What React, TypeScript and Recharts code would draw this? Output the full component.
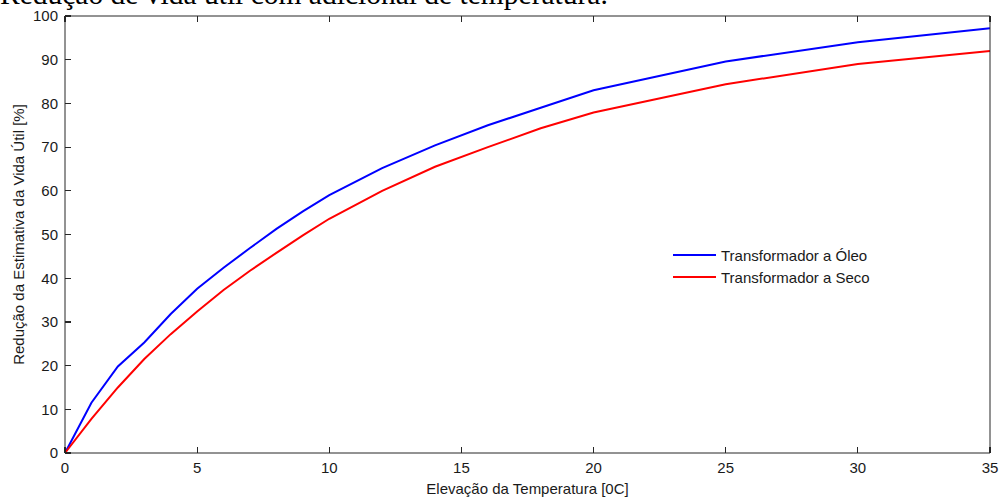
import React from 'react';
import { LineChart, Line, XAxis, YAxis } from 'recharts';

// Elevação da temperatura [0C]
const temps = [0, 1, 2, 3, 4, 5, 6, 7, 8, 9, 10, 12, 14, 16, 18, 20, 25, 30, 35];
// Redução da vida útil [%]
const oleo = [0, 11.5, 19.8, 25.3, 31.8, 37.6, 42.4, 46.9, 51.3, 55.3, 59.0, 65.2, 70.4, 75.0, 79.0, 83.0, 89.6, 94.0, 97.2];
const seco = [0, 7.8, 15.0, 21.5, 27.2, 32.4, 37.3, 41.7, 45.8, 49.8, 53.6, 60.0, 65.5, 70.0, 74.3, 77.9, 84.4, 89.0, 92.0];

const xTicks = [0, 5, 10, 15, 20, 25, 30, 35];
const yTicks = [0, 10, 20, 30, 40, 50, 60, 70, 80, 90, 100];

const seriesNames = ['Transformador a Óleo', 'Transformador a Seco'];
const seriesColors = ['#0000ff', '#ff0000'];

const data = temps.map((t, i) => ({ t, oleo: oleo[i], seco: seco[i] }));

const font = 'Arial, "Liberation Sans", sans-serif';
const axisColor = '#262626';
const textColor = '#1a1a1a';
const TICK = 6;
const TS = 1; // tickSize given to recharts, compensated in the custom ticks

// inward ticks, MATLAB style
const BottomTick = (p: any) => {
    const y0 = p.y - TS;
    return (
        <g>
            <line x1={p.x} y1={y0} x2={p.x} y2={y0 - TICK} stroke={axisColor} strokeWidth={1.2} shapeRendering="crispEdges" />
            <text x={p.x} y={y0 + 9} dy="0.71em" textAnchor="middle" style={{ fontFamily: font, fontSize: 15, fill: textColor }}>
                {p.payload.value}
            </text>
        </g>
    );
};
const TopTick = (p: any) => {
    const y0 = p.y + TS;
    return <line x1={p.x} y1={y0} x2={p.x} y2={y0 + TICK} stroke={axisColor} strokeWidth={1.2} shapeRendering="crispEdges" />;
};
const LeftTick = (p: any) => {
    const x0 = p.x + TS;
    return (
        <g>
            <line x1={x0} y1={p.y} x2={x0 + TICK} y2={p.y} stroke={axisColor} strokeWidth={1.2} shapeRendering="crispEdges" />
            <text x={x0 - 7} y={p.y} dy="0.355em" textAnchor="end" style={{ fontFamily: font, fontSize: 15, fill: textColor }}>
                {p.payload.value}
            </text>
        </g>
    );
};
const RightTick = (p: any) => {
    const x0 = p.x - TS;
    return <line x1={x0} y1={p.y} x2={x0 - TICK} y2={p.y} stroke={axisColor} strokeWidth={1.2} shapeRendering="crispEdges" />;
};

function LegendBox() {
    return (
        <div style={{ position: 'absolute', left: 673, top: 244, fontFamily: font, fontSize: 15, color: textColor }}>
            {seriesNames.map((name, i) => (
                <div key={name} style={{ display: 'flex', alignItems: 'center', height: 22 }}>
                    <svg width={44} height={4} style={{ marginRight: 4 }}>
                        <line x1={0} y1={2} x2={43} y2={2} stroke={seriesColors[i]} strokeWidth={2} />
                    </svg>
                    <span>{name}</span>
                </div>
            ))}
        </div>
    );
}

const YLabel = (props: any) => {
    const vb = props.viewBox || {};
    const cx = 18;
    const cy = vb.y + vb.height / 2;
    return (
        <text x={cx} y={cy} transform={`rotate(-90 ${cx} ${cy})`} textAnchor="middle" dominantBaseline="central"
            style={{ fontFamily: font, fontSize: 15, fill: textColor }}>
            Redução da Estimativa da Vida Útil [%]
        </text>
    );
};

const XLabel = (props: any) => {
    const vb = props.viewBox || {};
    const cx = vb.x + vb.width / 2;
    return (
        <text x={cx} y={vb.y + 35} textAnchor="middle" dominantBaseline="central"
            style={{ fontFamily: font, fontSize: 15, fill: textColor }}>
            Elevação da Temperatura [0C]
        </text>
    );
};

export default function App() {
    return (
        <div style={{ position: 'absolute', left: 0, top: 0, width: 1002, height: 497, background: '#fff', overflow: 'hidden' }}>
            <style>{`body{margin:0;background:#fff}`}</style>
            <svg width={1002} height={30} style={{ position: 'absolute', left: 0, top: 0 }}>
                <text x={0} y={4} style={{ fontFamily: '"Liberation Serif", "Times New Roman", serif', fontSize: 29.5, fill: '#000' }}>
                    Redução de vida útil com adicional de temperatura.
                </text>
            </svg>
            <LineChart width={1002} height={497} data={data} margin={{ top: 15, right: 11, bottom: 0, left: 0 }}>
                <XAxis
                    xAxisId="b"
                    dataKey="t"
                    type="number"
                    domain={[0, 35]}
                    ticks={xTicks}
                    height={44}
                    tickSize={TS}
                    tickMargin={0}
                    tickLine={false}
                    stroke={axisColor}
                    tick={BottomTick}
                    label={{ content: XLabel }}
                />
                <XAxis
                    xAxisId="t"
                    orientation="top"
                    dataKey="t"
                    type="number"
                    domain={[0, 35]}
                    ticks={xTicks}
                    height={1}
                    tickSize={TS}
                    tickMargin={0}
                    tickLine={false}
                    tick={TopTick}
                    stroke={axisColor}
                />
                <YAxis
                    yAxisId="l"
                    type="number"
                    domain={[0, 100]}
                    ticks={yTicks}
                    width={65}
                    tickSize={TS}
                    tickMargin={0}
                    tickLine={false}
                    stroke={axisColor}
                    tick={LeftTick}
                    label={{ content: YLabel }}
                />
                <YAxis
                    yAxisId="r"
                    orientation="right"
                    type="number"
                    domain={[0, 100]}
                    ticks={yTicks}
                    width={1}
                    tickSize={TS}
                    tickMargin={0}
                    tickLine={false}
                    tick={RightTick}
                    stroke={axisColor}
                />
                <Line xAxisId="b" yAxisId="l" type="linear" dataKey="oleo" name={seriesNames[0]} stroke={seriesColors[0]}
                    strokeWidth={2} dot={false} isAnimationActive={false} />
                <Line xAxisId="b" yAxisId="l" type="linear" dataKey="seco" name={seriesNames[1]} stroke={seriesColors[1]}
                    strokeWidth={2} dot={false} isAnimationActive={false} />
            </LineChart>
            <LegendBox />
        </div>
    );
}
